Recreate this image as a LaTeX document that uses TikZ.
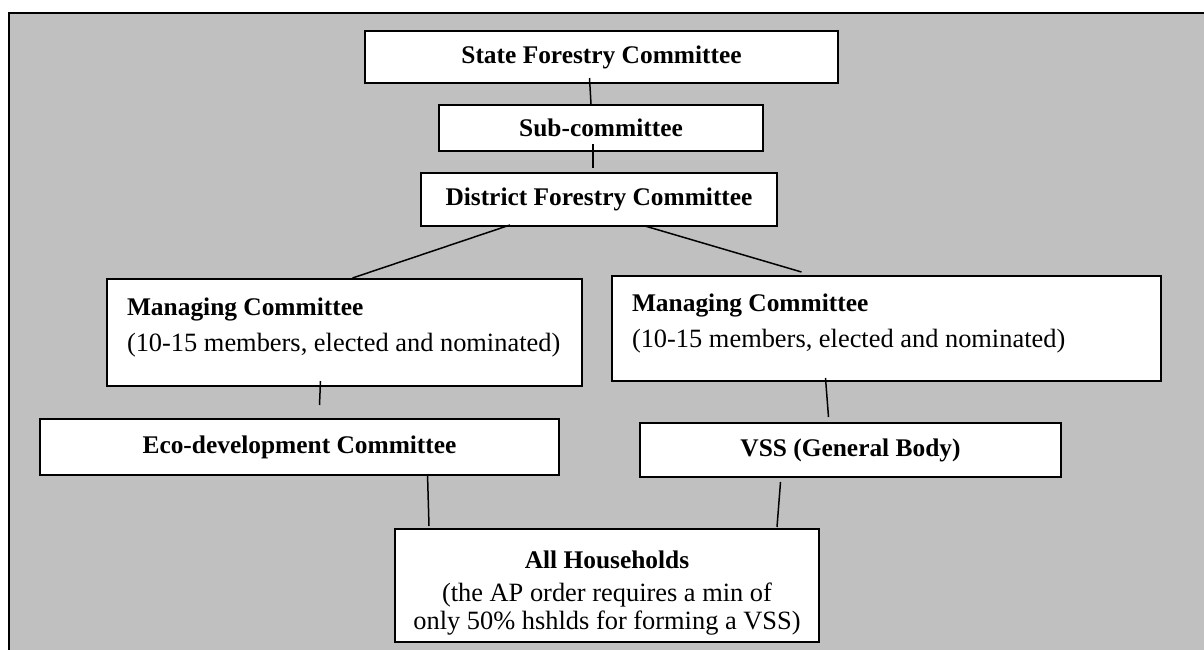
\documentclass[tikz,border=0pt]{standalone}
\usepackage{fontspec}
\setmainfont{Liberation Serif}
\definecolor{panelgray}{HTML}{C0C0C0}
\newcommand{\notefont}{\fontsize{13.2}{15.5}\selectfont}

\begin{document}
\begin{tikzpicture}[x=0.5pt, y=-0.5pt,
  every node/.style={font=\fontsize{12.7}{14}\selectfont},
  unit/.style={draw, rectangle, fill=white, line width=1pt, inner sep=0pt, align=center},
  link/.style={line width=0.75pt}]
\useasboundingbox (0,0) rectangle (1204,649);
% Fundo
\draw[fill=panelgray, line width=1pt] (8.5,13) rectangle (1230,680);

% Caixas
\node[unit, minimum width=236.5pt, minimum height=26pt] (state) at (601.5,57) {\textbf{State Forestry Committee}};
\node[unit, minimum width=162pt, minimum height=23pt] (sub) at (601,128) {\raisebox{-2pt}{\textbf{Sub-committee}}};
\node[unit, minimum width=178pt, minimum height=26.5pt] (district) at (599,199.5) {\raisebox{-1pt}{\textbf{District Forestry Committee}}};
\node[unit, minimum width=237.5pt, minimum height=53.5pt] (mcleft) at (344.5,332.5)
  {\parbox[c][53.5pt][t]{217.5pt}{\vspace*{9.5pt}\textbf{Managing Committee}\\[4pt]{\notefont (10-15 members, elected and nominated)}}};
\node[unit, minimum width=274.5pt, minimum height=52.5pt] (mcright) at (886.5,328.5)
  {\parbox[c][52.5pt][t]{254.5pt}{\vspace*{9pt}\textbf{Managing Committee}\\[4pt]{\notefont (10-15 members, elected and nominated)}}};
\node[unit, minimum width=259.5pt, minimum height=28pt] (eco) at (299.5,447) {\textbf{Eco-development Committee}};
\node[unit, minimum width=210.5pt, minimum height=27pt] (vss) at (850.5,450) {\textbf{VSS (General Body)}};
\node[unit, minimum width=212pt, minimum height=56.5pt] (hh) at (607,585.5)
  {\parbox[c][56.5pt][t]{212pt}{\centering\vspace*{11pt}\textbf{All Households}\\[1pt]
   {\notefont (the AP order requires a min of\\only 50\% hshlds for forming a VSS)}}};

% Ligações
\draw[link] ([xshift=-6pt,yshift=3pt]state.south) -- ([xshift=-5pt]sub.north);
\draw[link] ([xshift=-4pt,yshift=4pt]sub.south) -- ([xshift=-3pt,yshift=2pt]district.north);
\draw[link] ([xshift=-44.5pt,yshift=1pt]district.south) -- ([xshift=4pt]mcleft.north);
\draw[link] ([xshift=23pt,yshift=0.5pt]district.south) -- ([xshift=-42.5pt,yshift=1.5pt]mcright.north);
\draw[link] ([xshift=-12pt,yshift=3pt]mcleft.south) -- ([xshift=10pt,yshift=6.5pt]eco.north);
\draw[link] ([xshift=-30.5pt,yshift=2pt]mcright.south) -- ([xshift=-11pt,yshift=2.5pt]vss.north);
\draw[link] ([xshift=64pt,yshift=1pt]eco.south) -- ([xshift=-89pt,yshift=1pt]hh.north);
\draw[link] ([xshift=-35pt,yshift=-2pt]vss.south) -- ([xshift=85pt,yshift=0.5pt]hh.north);
\end{tikzpicture}
\end{document}
